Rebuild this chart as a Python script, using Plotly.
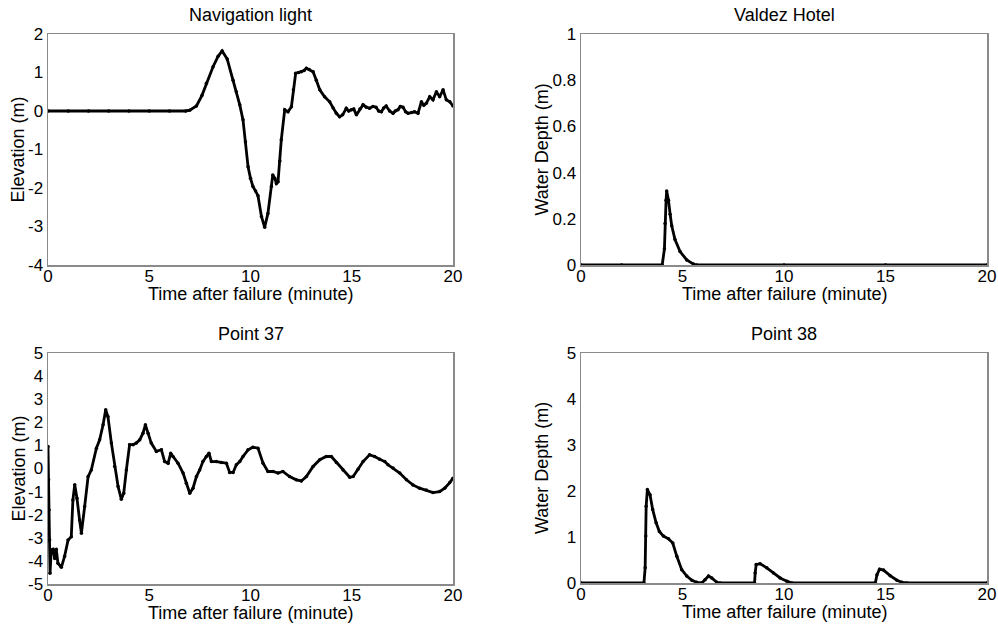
import plotly.graph_objects as go

# ---------------- data ----------------
nav_t = [0, 1, 2, 3, 4, 5, 6, 6.8, 7.0, 7.33, 7.6, 7.82, 8.15, 8.4, 8.6, 8.85, 9.14, 9.3, 9.47, 9.63, 9.75, 9.88,
         10.0, 10.12, 10.25, 10.37, 10.54, 10.7, 10.86, 11.03, 11.1, 11.2, 11.28, 11.36, 11.45, 11.52, 11.69,
         11.85, 12.02, 12.12, 12.23, 12.37, 12.51, 12.65, 12.76, 12.9, 13.09, 13.25, 13.42, 13.66, 13.91,
         14.08, 14.24, 14.4, 14.55, 14.73, 14.85, 14.98, 15.1, 15.23, 15.4, 15.56, 15.72, 15.88, 16.05, 16.2,
         16.33, 16.46, 16.58, 16.7, 16.87, 17.04, 17.15, 17.28, 17.4, 17.53, 17.66, 17.78, 17.95, 18.1, 18.27,
         18.44, 18.56, 18.68, 18.85, 19.01, 19.18, 19.34, 19.51, 19.67, 19.84, 20.0]
nav_v = [0, 0, 0, 0, 0, 0, 0, 0.0, 0.02, 0.13, 0.4, 0.72, 1.15, 1.42, 1.56, 1.35, 0.8, 0.5, 0.16, -0.23, -0.8, -1.45,
         -1.75, -1.96, -2.08, -2.2, -2.74, -3.02, -2.66, -1.96, -1.66, -1.75, -1.88, -1.84, -1.3, -0.75, 0.03,
         -0.02, 0.11, 0.55, 0.98, 1.0, 1.02, 1.05, 1.11, 1.08, 1.02, 0.8, 0.55, 0.37, 0.24, 0.08, -0.06, -0.15, -0.1,
         0.07, 0.0, 0.03, 0.05, -0.1, 0.05, 0.16, 0.1, 0.07, 0.12, 0.1, 0.0, -0.02, 0.08, 0.13, 0.0, -0.06, 0.0,
         0.03, 0.12, 0.1, -0.02, -0.06, -0.04, -0.02, -0.06, 0.24, 0.15, 0.2, 0.37, 0.29, 0.5, 0.37, 0.55, 0.29,
         0.24, 0.13]

hotel_t = [0, 2, 4.0, 4.11, 4.14, 4.19, 4.22, 4.31, 4.39, 4.47, 4.63, 4.88, 5.21, 5.54, 5.7, 10, 15, 20]
hotel_v = [0, 0, 0, 0.07, 0.18, 0.28, 0.32, 0.28, 0.22, 0.17, 0.11, 0.058, 0.022, 0.004, 0, 0, 0, 0]

p37_t = [0, 0.03, 0.05, 0.08, 0.1, 0.16, 0.25, 0.33, 0.41, 0.49, 0.66, 0.82, 0.99, 1.15, 1.23, 1.32, 1.43, 1.56,
         1.65, 1.81, 1.98, 2.14, 2.39, 2.55, 2.72, 2.85, 2.96, 3.13, 3.29, 3.46, 3.62, 3.74, 3.87, 4.03, 4.2,
         4.36, 4.53, 4.69, 4.81, 4.94, 5.1, 5.35, 5.6, 5.76, 5.93, 6.06, 6.17, 6.42, 6.67, 6.83, 7.0, 7.16, 7.33,
         7.49, 7.65, 7.82, 7.95, 8.07, 8.31, 8.56, 8.81, 8.97, 9.14, 9.3, 9.47, 9.63, 9.88, 10.12, 10.37, 10.62,
         10.86, 11.11, 11.36, 11.6, 11.93, 12.26, 12.51, 12.76, 13.09, 13.42, 13.74, 13.99, 14.24, 14.57, 14.9,
         15.07, 15.31, 15.56, 15.88, 16.13, 16.38, 16.63, 16.79, 17.04, 17.37, 17.7, 18.02, 18.35, 18.68, 19.01,
         19.34, 19.59, 19.84, 20.0]
p37_v = [0.95, -0.49, -1.8, -3.1, -4.54, -3.53, -3.5, -3.9, -3.5, -4.1, -4.28, -3.8, -3.1, -2.95, -1.36, -0.7,
         -1.29, -2.23, -2.8, -1.65, -0.35, -0.06, 0.88, 1.24, 1.89, 2.54, 2.25, 1.1, 0.09, -0.78, -1.33, -1.07,
         -0.06, 1.03, 1.03, 1.1, 1.24, 1.53, 1.89, 1.53, 1.1, 0.74, 0.81, 0.3, 0.23, 0.66, 0.52, 0.23, -0.2, -0.64,
         -1.07, -0.85, -0.35, -0.06, 0.3, 0.52, 0.66, 0.3, 0.3, 0.26, 0.23, -0.17, -0.17, 0.16, 0.3, 0.52, 0.81,
         0.92, 0.88, 0.23, -0.13, -0.13, -0.2, -0.13, -0.35, -0.49, -0.54, -0.35, 0.09, 0.38, 0.52, 0.52, 0.26,
         -0.06, -0.38, -0.35, -0.03, 0.3, 0.59, 0.52, 0.4, 0.3, 0.16, 0.02, -0.2, -0.49, -0.71, -0.85, -0.93, -1.04,
         -1.0, -0.85, -0.61, -0.42]

p38_t = [0, 3.1, 3.16, 3.19, 3.21, 3.27, 3.4, 3.53, 3.7, 3.86, 4.06, 4.31, 4.52, 4.72, 4.96, 5.21, 5.46, 5.7,
         5.95, 6.11, 6.28, 6.44, 6.69, 6.85, 8.55, 8.58, 8.63, 8.82, 9.15, 9.48, 9.81, 10.14, 10.39, 14.5, 14.58,
         14.71, 14.9, 15.23, 15.56, 15.81, 16.06, 20.0]
p38_v = [0, 0, 0.33, 1.02, 1.67, 2.03, 1.92, 1.6, 1.31, 1.12, 1.02, 0.96, 0.87, 0.58, 0.29, 0.15, 0.06, 0.015,
         0, 0.07, 0.15, 0.11, 0.015, 0, 0, 0.22, 0.4, 0.42, 0.33, 0.22, 0.11, 0.04, 0, 0, 0.18, 0.3, 0.28, 0.16,
         0.06, 0.015, 0, 0]

titles = ["Navigation light", "Valdez Hotel", "Point 37", "Point 38"]
ytitles = ["Elevation (m)", "Water Depth (m)", "Elevation (m)", "Water Depth (m)"]
xtitle = "Time after failure (minute)"
x_ticks = [0, 5, 10, 15, 20]
y_ticktext = {
    0: ["-4", "-3", "-2", "-1", "0", "1", "2"],
    1: ["0", "0.2", "0.4", "0.6", "0.8", "1"],
    2: ["-5", "-4", "-3", "-2", "-1", "0", "1", "2", "3", "4", "5"],
    3: ["0", "1", "2", "3", "4", "5"],
}

# ---------------- layout ----------------
W, H = 998, 625
FONT = "Liberation Sans, Arial, sans-serif"

panels = [
    dict(t=nav_t, v=nav_v, yr=[-4, 2], px=(48, 453), py=(34, 265), ytx=30),
    dict(t=hotel_t, v=hotel_v, yr=[0, 1], px=(581, 987), py=(34, 265), ytx=39),
    dict(t=p37_t, v=p37_v, yr=[-5, 5], px=(48, 453), py=(353, 584), ytx=30),
    dict(t=p38_t, v=p38_v, yr=[0, 5], px=(581, 987), py=(353, 583), ytx=39),
]

fig = go.Figure()
annotations = []
layout_axes = {}
for i, p in enumerate(panels):
    n = "" if i == 0 else str(i + 1)
    xa, ya = "x" + n, "y" + n
    fig.add_trace(go.Scatter(
        x=p["t"], y=p["v"], xaxis=xa, yaxis=ya, mode="lines+markers",
        line=dict(color="black", width=2.8), marker=dict(color="black", size=3.5),
        showlegend=False, hoverinfo="skip"))
    x0, x1 = p["px"]
    y0, y1 = p["py"]
    xd = [x0 / W, x1 / W]
    yd = [1 - y1 / H, 1 - y0 / H]
    ytl = y_ticktext[i]
    yvals = [float(s) for s in ytl]
    layout_axes["xaxis" + n] = dict(
        domain=xd, range=[0, 20], tickvals=x_ticks, ticktext=[str(v) for v in x_ticks],
        showgrid=False, zeroline=False, automargin=False, ticklabelstandoff=-5,
        showline=True, linecolor="#8a8a8a", linewidth=1.5, mirror=True, ticks="", ticklen=0,
        tickfont=dict(size=17, color="black", family=FONT), anchor=ya, fixedrange=True)
    layout_axes["yaxis" + n] = dict(
        domain=yd, range=p["yr"], tickvals=yvals, ticktext=ytl,
        showgrid=False, zeroline=False, automargin=False,
        showline=True, linecolor="#8a8a8a", linewidth=1.5, mirror=True, ticks="", ticklen=0,
        tickfont=dict(size=17, color="black", family=FONT), anchor=xa, fixedrange=True)
    cx = (x0 + x1) / 2
    annotations.append(dict(text=titles[i], x=cx / W, y=1 - (y0 - 19) / H, xref="paper", yref="paper",
                            showarrow=False, font=dict(size=18, color="black", family=FONT),
                            xanchor="center", yanchor="middle"))
    annotations.append(dict(text=xtitle, x=cx / W, y=1 - (y1 + 29) / H, xref="paper", yref="paper",
                            showarrow=False, font=dict(size=18, color="black", family=FONT),
                            xanchor="center", yanchor="middle"))
    cy = (y0 + y1) / 2
    annotations.append(dict(text=ytitles[i], x=(x0 - p["ytx"]) / W, y=1 - cy / H, xref="paper",
                            yref="paper", showarrow=False, textangle=-90,
                            font=dict(size=18, color="black", family=FONT),
                            xanchor="center", yanchor="middle"))

fig.update_layout(template="none", width=W, height=H, margin=dict(l=0, r=0, t=0, b=0, autoexpand=False),
                  plot_bgcolor="white", paper_bgcolor="white", hovermode=False,
                  annotations=annotations, **layout_axes)

fig.write_html("out.html", config={"displayModeBar": False, "staticPlot": True},
               post_script="document.body.style.margin='0';document.body.style.overflow='hidden';")
